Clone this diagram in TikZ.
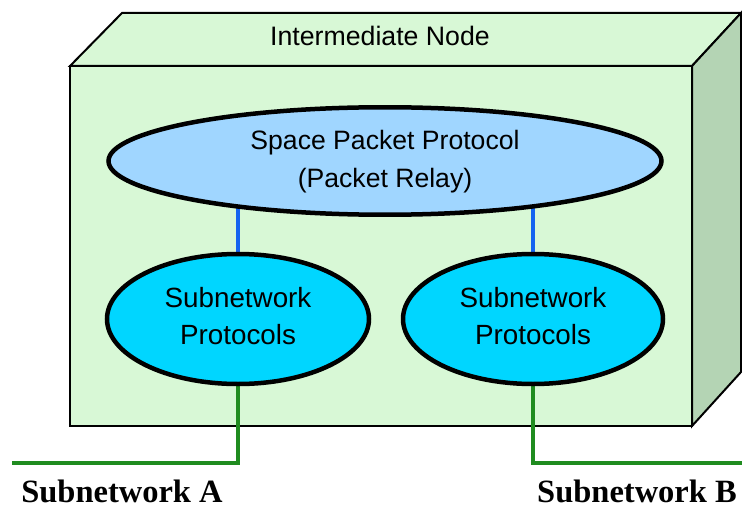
\documentclass[tikz,border=0pt]{standalone}
\usepackage{fontspec}
\setmainfont{Liberation Sans}
\newfontfamily\labelfont{Liberation Serif}
\usetikzlibrary{shapes.geometric}
\definecolor{facegreen}{RGB}{216,248,214}
\definecolor{sidegreen}{RGB}{180,212,180}
\definecolor{sppblue}{RGB}{160,214,255}
\definecolor{subcyan}{RGB}{0,214,255}
\definecolor{linkblue}{RGB}{20,100,240}
\definecolor{netgreen}{RGB}{32,140,32}
\pgfdeclarelayer{boxlayer}
\pgfdeclarelayer{linklayer}
\pgfsetlayers{boxlayer,linklayer,main}
\tikzset{
  boxface/.style={draw=black, line width=2pt, line join=miter},
  protoell/.style={ellipse, draw=black, line width=4.5pt, inner sep=0pt, align=center},
  bluelink/.style={draw=linkblue, line width=4pt},
  netlink/.style={draw=netgreen, line width=4pt},
  netlabel/.style={font=\labelfont\bfseries\fontsize{32.5}{36}\selectfont, anchor=base, inner sep=0pt},
}
\begin{document}
\begin{tikzpicture}[x=1pt,y=-1pt]
\useasboundingbox (0,0) rectangle (742,508);
\begin{pgfonlayer}{boxlayer}
  \fill[white] (0,0) rectangle (742,508);
  \draw[boxface, fill=facegreen] (70,66) -- (122,13) -- (741,13) -- (692,66) -- cycle;
  \draw[boxface, fill=sidegreen] (692,66) -- (741,13) -- (741,372) -- (692,426) -- cycle;
  \draw[boxface, fill=facegreen] (70,66) rectangle (692,426);
\end{pgfonlayer}
\node[anchor=base, font=\fontsize{26.7}{30}\selectfont] (title) at (380,46) {Intermediate Node};
\node[protoell, fill=sppblue, minimum width=553pt, minimum height=98pt,
  font=\fontsize{26.6}{38}\selectfont] (spp) at (385,161)
  {\raisebox{5pt}{\begin{tabular}{@{}c@{}}Space Packet Protocol\\(Packet Relay)\end{tabular}}};
\node[protoell, fill=subcyan, minimum width=262pt, minimum height=130pt,
  font=\fontsize{27.8}{37}\selectfont] (suba) at (238,319)
  {\raisebox{1.5pt}{\begin{tabular}{@{}c@{}}Subnetwork\\Protocols\end{tabular}}};
\node[protoell, fill=subcyan, minimum width=260pt, minimum height=130pt,
  font=\fontsize{27.8}{37}\selectfont] (subb) at (533,319)
  {\raisebox{1.5pt}{\begin{tabular}{@{}c@{}}Subnetwork\\Protocols\end{tabular}}};
\coordinate (enda) at (12,463);
\coordinate (endb) at (742,463);
\begin{pgfonlayer}{linklayer}
  \draw[bluelink] (suba.center) -- (suba.center |- spp.center);
  \draw[bluelink] (subb.center) -- (subb.center |- spp.center);
  \draw[netlink] (suba.center) |- (enda);
  \draw[netlink] (subb.center) |- (endb);
\end{pgfonlayer}
\node[netlabel] (labela) at (122,502) {Subnetwork A};
\node[netlabel] (labelb) at (637,502) {Subnetwork B};
\end{tikzpicture}
\end{document}
